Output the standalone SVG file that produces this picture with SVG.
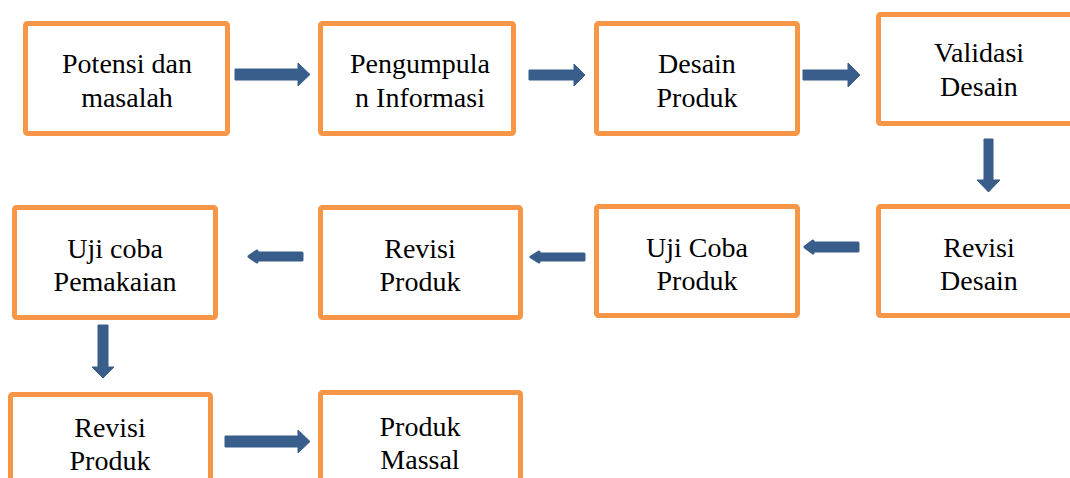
<svg xmlns="http://www.w3.org/2000/svg" width="1070" height="478" viewBox="0 0 1070 478">
<rect width="1070" height="478" fill="#fff"/>
<g id="connectors" fill="#3A5E8C" stroke="#385D8A">
<path stroke-width="1" d="M235,69 H298 V63 L310,74.5 L298,86 V80 H235 Z"/>
<path stroke-width="1" d="M529,70 H574 V64 L585,75 L574,86 V80 H529 Z"/>
<path stroke-width="1" d="M803,70 H848 V63 L860,75 L848,87 V80 H803 Z"/>
<path stroke-width="1" d="M984,139 H993 V180 H1000 L988.5,192 L977,180 H984 Z"/>
<path stroke-width="3" stroke-linejoin="round" d="M858,243 H813 V241 L805,247 L813,253 V251 H858 Z"/>
<path stroke-width="3" stroke-linejoin="round" d="M584,254 H539 V252 L531,257 L539,262 V260 H584 Z"/>
<path stroke-width="3" stroke-linejoin="round" d="M302,253 H257 V251 L249,256.5 L257,262 V260 H302 Z"/>
<path stroke-width="1" d="M98,325 H108 V367 H114 L103,378 L92,367 H98 Z"/>
<path stroke-width="1" d="M225,436 H298 V430 L310,441.5 L298,453 V447 H225 Z"/>
</g>
<g id="n1"><rect fill="#fff" stroke="#F79646" stroke-width="5" x="25.5" y="23.5" width="202" height="110" rx="2"/><text font-family="Times New Roman" font-size="28" text-anchor="middle" x="127" y="73">Potensi dan</text><text font-family="Times New Roman" font-size="28" text-anchor="middle" x="127" y="107">masalah</text></g>
<g id="n2"><rect fill="#fff" stroke="#F79646" stroke-width="5" x="320.5" y="23.5" width="193" height="110" rx="2"/><text font-family="Times New Roman" font-size="28" text-anchor="middle" x="420" y="73">Pengumpula</text><text font-family="Times New Roman" font-size="28" text-anchor="middle" x="420" y="107">n Informasi</text></g>
<g id="n3"><rect fill="#fff" stroke="#F79646" stroke-width="5" x="596.5" y="23.5" width="201" height="110" rx="2"/><text font-family="Times New Roman" font-size="28" text-anchor="middle" x="697" y="73">Desain</text><text font-family="Times New Roman" font-size="28" text-anchor="middle" x="697" y="107">Produk</text></g>
<g id="n4"><rect fill="#fff" stroke="#F79646" stroke-width="5" x="878.5" y="14.5" width="201" height="109" rx="2"/><text font-family="Times New Roman" font-size="28" text-anchor="middle" x="979" y="62">Validasi</text><text font-family="Times New Roman" font-size="28" text-anchor="middle" x="979" y="96">Desain</text></g>
<g id="n5"><rect fill="#fff" stroke="#F79646" stroke-width="5" x="14.5" y="207.5" width="201" height="110" rx="2"/><text font-family="Times New Roman" font-size="28" text-anchor="middle" x="115" y="258">Uji coba</text><text font-family="Times New Roman" font-size="28" text-anchor="middle" x="115" y="291">Pemakaian</text></g>
<g id="n6"><rect fill="#fff" stroke="#F79646" stroke-width="5" x="320.5" y="207.5" width="200" height="110" rx="2"/><text font-family="Times New Roman" font-size="28" text-anchor="middle" x="420" y="258">Revisi</text><text font-family="Times New Roman" font-size="28" text-anchor="middle" x="420" y="291">Produk</text></g>
<g id="n7"><rect fill="#fff" stroke="#F79646" stroke-width="5" x="596.5" y="206.5" width="201" height="109" rx="2"/><text font-family="Times New Roman" font-size="28" text-anchor="middle" x="697" y="257">Uji Coba</text><text font-family="Times New Roman" font-size="28" text-anchor="middle" x="697" y="290">Produk</text></g>
<g id="n8"><rect fill="#fff" stroke="#F79646" stroke-width="5" x="878.5" y="206.5" width="201" height="109" rx="2"/><text font-family="Times New Roman" font-size="28" text-anchor="middle" x="979" y="257">Revisi</text><text font-family="Times New Roman" font-size="28" text-anchor="middle" x="979" y="290">Desain</text></g>
<g id="n9"><rect fill="#fff" stroke="#F79646" stroke-width="5" x="10.5" y="394.5" width="200" height="110" rx="2"/><text font-family="Times New Roman" font-size="28" text-anchor="middle" x="110" y="437">Revisi</text><text font-family="Times New Roman" font-size="28" text-anchor="middle" x="110" y="470">Produk</text></g>
<g id="n10"><rect fill="#fff" stroke="#F79646" stroke-width="5" x="320.5" y="392.5" width="200" height="110" rx="2"/><text font-family="Times New Roman" font-size="28" text-anchor="middle" x="420" y="436">Produk</text><text font-family="Times New Roman" font-size="28" text-anchor="middle" x="420" y="469">Massal</text></g>
</svg>
